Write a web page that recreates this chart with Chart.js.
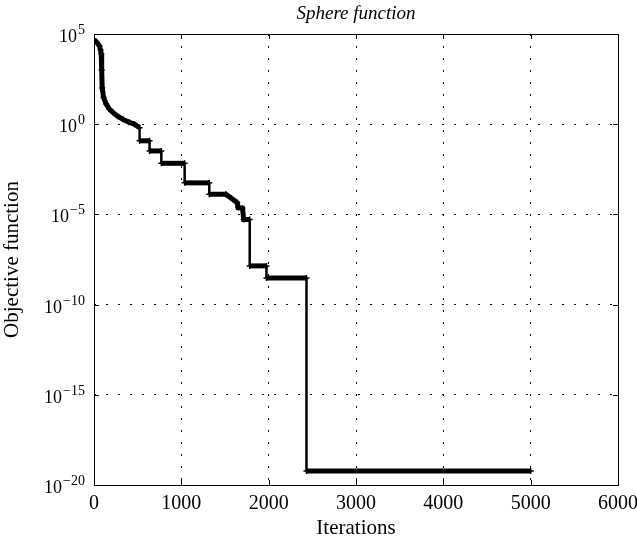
<!DOCTYPE html>
<html>
<head>
<meta charset="utf-8">
<script src="https://cdn.jsdelivr.net/npm/chart.js@4/dist/chart.umd.min.js"></script>
<style>
  html, body { margin: 0; padding: 0; background: #fff; }
  #wrap { width: 637px; height: 544px; }
</style>
</head>
<body>
<div id="wrap"><canvas id="chart" width="637" height="544"></canvas></div>
<script>
// convergence curve (iteration, objective value)
const iterations = [0, 30, 63, 75, 83, 88, 94, 110, 140, 175, 216, 270, 330, 400, 464, 522, 522, 636, 636, 771, 771,
    1038, 1038, 1320, 1320, 1510, 1570, 1640, 1650, 1700, 1715, 1783, 1783, 1975, 1975, 2433, 2433, 5000];
const objective = [5e4, 3.5e4, 2.2e4, 1.3e4, 8e3, 1e3, 1e2, 3e1, 1.3e1, 7, 4.5, 2.8, 1.9, 1.3, 1, 0.63, 0.12, 0.12,
    0.033, 0.033, 0.0068, 0.0068, 5.6e-4, 5.6e-4, 1.3e-4, 1.3e-4, 8e-5, 4.5e-5, 2.4e-5, 2.2e-5, 5.2e-6, 5.2e-6,
    1.4e-8, 1.4e-8, 3e-9, 3e-9, 6e-20, 6e-20];
const xTicks = [0, 1000, 2000, 3000, 4000, 5000, 6000];
const yExponents = [5, 0, -5, -10, -15, -20];

const serif = "'Liberation Serif', 'Times New Roman', serif";

// frame, inward tick marks, title and 10^n labels, drawn on top of the scales
const framePlugin = {
    id: 'frame',
    afterDraw(chart) {
        const ctx = chart.ctx;
        const area = chart.chartArea;
        const xs = chart.scales.x;
        const ys = chart.scales.y;
        ctx.save();
        ctx.strokeStyle = '#000';
        ctx.lineWidth = 1;
        ctx.strokeRect(area.left + 0.5, area.top + 0.5, area.right - area.left, area.bottom - area.top);

        ctx.beginPath();
        xTicks.forEach(v => {
            const px = Math.round(xs.getPixelForValue(v)) + 0.5;
            ctx.moveTo(px, area.top); ctx.lineTo(px, area.top + 5);
            ctx.moveTo(px, area.bottom); ctx.lineTo(px, area.bottom - 5);
        });
        yExponents.forEach(e => {
            const py = Math.round(ys.getPixelForValue(Math.pow(10, e))) + 0.5;
            ctx.moveTo(area.left, py); ctx.lineTo(area.left + 5, py);
            ctx.moveTo(area.right, py); ctx.lineTo(area.right - 5, py);
        });
        ctx.stroke();

        // title
        ctx.fillStyle = '#000';
        ctx.font = 'italic 19px ' + serif;
        ctx.textAlign = 'center';
        ctx.textBaseline = 'alphabetic';
        ctx.fillText('Sphere function', (area.left + area.right) / 2, 19);

        // y tick labels as 10 with a raised exponent
        yExponents.forEach(e => {
            const py = ys.getPixelForValue(Math.pow(10, e));
            const exp = e < 0 ? '\u2212' + Math.abs(e) : String(e);
            ctx.font = '14px ' + serif;
            const w = ctx.measureText(exp).width;
            ctx.textAlign = 'right';
            ctx.fillText(exp, 85, py);
            ctx.font = '18px ' + serif;
            ctx.fillText('10', 85 - w - 1, py + 8);
        });
        ctx.restore();
    }
};

new Chart(document.getElementById('chart'), {
    type: 'line',
    data: {
        datasets: [{
            data: iterations.map((x, i) => ({ x: x, y: objective[i] })),
            borderColor: '#000',
            backgroundColor: '#000',
            borderWidth: 5,
            segment: {
                // vertical drops are thinner than the marker-covered runs
                borderWidth: c => (c.p0.parsed.x === c.p1.parsed.x ? 2.5 : 5)
            },
            pointStyle: 'cross',
            pointRadius: 3,
            pointBorderWidth: 1.5,
            fill: false,
            tension: 0
        }]
    },
    options: {
        responsive: false,
        animation: false,
        layout: { padding: { left: 0, right: 19, top: 34, bottom: 0 } },
        scales: {
            x: {
                type: 'linear',
                min: 0,
                max: 6000,
                afterBuildTicks: s => { s.ticks = xTicks.map(v => ({ value: v })); },
                afterFit: s => { s.height = 59; s.paddingLeft = 0; s.paddingRight = 0; },
                grid: { color: '#000', lineWidth: 1, drawTicks: false },
                border: { display: false, dash: [2, 10] },
                ticks: {
                    color: '#000',
                    padding: 7,
                    maxRotation: 0,
                    callback: v => String(v),
                    font: { family: serif, size: 20 }
                },
                title: {
                    display: true,
                    text: 'Iterations',
                    color: '#000',
                    font: { family: serif, size: 21 },
                    padding: { top: 0, bottom: 3 }
                }
            },
            y: {
                type: 'logarithmic',
                min: 1e-20,
                max: 1e5,
                afterBuildTicks: s => { s.ticks = yExponents.map(e => ({ value: Math.pow(10, e) })); },
                afterFit: s => { s.width = 94; s.paddingTop = 0; s.paddingBottom = 0; },
                grid: { color: '#000', lineWidth: 1, drawTicks: false },
                border: { display: false, dash: [2, 10] },
                ticks: { display: false },
                title: {
                    display: true,
                    text: 'Objective function',
                    color: '#000',
                    font: { family: serif, size: 21 },
                    padding: { top: 0, bottom: 0 }
                }
            }
        },
        plugins: {
            legend: { display: false },
            tooltip: { enabled: false }
        }
    },
    plugins: [framePlugin]
});
</script>
</body>
</html>
